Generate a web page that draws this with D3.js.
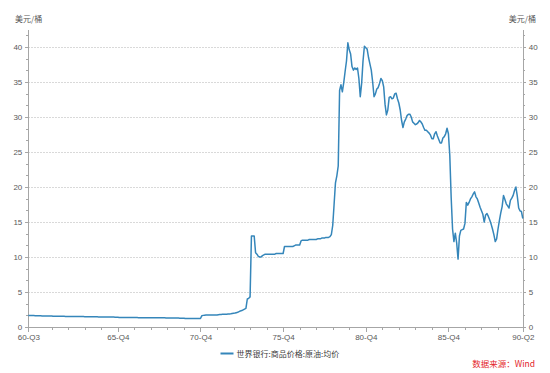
<!DOCTYPE html>
<html>
<head>
<meta charset="utf-8" />
<title>世界银行:商品价格:原油:均价</title>
<script src="https://cdnjs.cloudflare.com/ajax/libs/d3/7.8.5/d3.min.js"></script>
<style>
  body { margin: 0; padding: 0; background: #fff; }
  svg { display: block; font-family: "Microsoft YaHei", "Noto Sans CJK SC", sans-serif; }
  .axis path, .axis line { stroke: #a6a6a6; shape-rendering: crispEdges; }
  .axis text { fill: #595959; font-size: 8px; }
  .grid line { stroke: #d9d9d9; stroke-dasharray: 1.5,1.5; shape-rendering: crispEdges; }
</style>
</head>
<body>
<div id="chart"></div>
<script>
// monthly, first value = 1960-07
var startYear = 1960, startMonth = 7;
var prices = [
  1.63,1.63,1.63,1.63,1.63,1.62,                                  // 1960 Jul-Dec
  1.60,1.60,1.59,1.59,1.58,1.58,1.58,1.57,1.57,1.57,1.56,1.56,    // 1961
  1.53,1.53,1.52,1.52,1.52,1.52,1.52,1.52,1.52,1.51,1.51,1.51,    // 1962
  1.50,1.50,1.50,1.50,1.50,1.50,1.50,1.50,1.50,1.49,1.49,1.48,    // 1963
  1.46,1.46,1.45,1.45,1.45,1.45,1.45,1.45,1.45,1.44,1.44,1.44,    // 1964
  1.43,1.43,1.42,1.42,1.42,1.42,1.42,1.42,1.42,1.41,1.41,1.40,    // 1965
  1.36,1.36,1.36,1.36,1.36,1.36,1.36,1.36,1.35,1.35,1.35,1.35,    // 1966
  1.34,1.34,1.33,1.33,1.33,1.33,1.33,1.33,1.33,1.33,1.32,1.32,    // 1967
  1.32,1.32,1.32,1.32,1.32,1.32,1.32,1.31,1.31,1.31,1.30,1.30,    // 1968
  1.28,1.28,1.27,1.27,1.27,1.27,1.27,1.27,1.26,1.26,1.26,1.25,    // 1969
  1.21,1.21,1.21,1.21,1.21,1.21,1.21,1.21,1.21,1.21,1.21,1.22,    // 1970
  1.62,1.66,1.69,1.70,1.70,1.70,1.70,1.70,1.70,1.71,1.72,1.72,    // 1971
  1.75,1.78,1.80,1.82,1.82,1.82,1.83,1.84,1.85,1.88,1.92,1.96,    // 1972
  2.00,2.05,2.10,2.20,2.30,2.35,2.45,2.55,2.65,4.00,4.10,4.30,    // 1973
  13.0,13.0,13.0,10.6,10.4,10.1,10.0,10.0,10.2,10.3,10.4,10.4,    // 1974
  10.4,10.4,10.4,10.4,10.4,10.4,10.5,10.5,10.5,10.5,10.5,10.5,    // 1975
  11.5,11.5,11.5,11.5,11.5,11.5,11.5,11.6,11.7,11.7,11.7,11.7,    // 1976
  12.3,12.4,12.4,12.4,12.4,12.4,12.5,12.5,12.5,12.5,12.5,12.5,    // 1977
  12.6,12.6,12.6,12.7,12.7,12.7,12.8,12.8,12.8,12.9,13.2,14.5,    // 1978
  17.5,20.6,21.6,23.0,33.8,34.6,33.6,34.9,36.5,38.0,40.6,39.6,    // 1979
  39.0,37.2,36.7,37.0,36.8,37.0,35.5,32.9,34.8,38.0,40.1,39.9,    // 1980
  39.7,38.5,37.6,36.7,35.0,32.9,33.3,34.0,34.2,34.8,35.5,35.2,    // 1981
  34.3,31.8,30.3,31.0,32.8,32.9,32.6,32.7,33.3,33.4,32.6,32.0,    // 1982
  31.0,29.5,28.5,29.3,29.7,30.2,30.4,30.4,30.0,29.3,29.1,28.9,    // 1983
  29.0,29.2,29.5,29.3,29.0,28.5,28.1,28.1,27.9,27.7,27.4,26.9,    // 1984
  26.9,27.6,27.9,27.3,26.8,26.3,26.3,27.0,27.2,27.6,28.4,27.6,    // 1985
  24.5,18.5,14.0,12.2,13.4,12.0,9.7,13.0,13.8,13.9,14.0,14.8,     // 1986
  17.8,17.4,17.8,18.3,18.6,19.0,19.3,18.6,18.3,17.7,17.1,16.6,    // 1987
  16.1,15.0,16.0,16.2,15.8,15.3,14.7,14.0,13.2,12.2,12.6,14.0,    // 1988
  15.2,16.3,17.2,18.8,18.2,17.6,17.3,17.0,18.1,18.4,18.8,19.5,    // 1989
  20.0,18.7,17.0,16.6,16.5,15.5                                   // 1990 Jan-Jun
];

var xTickMonths = ["1960-07", "1965-12", "1970-12", "1975-12", "1980-12", "1985-12", "1990-06"];
var xTickLabels = ["60-Q3", "65-Q4", "70-Q4", "75-Q4", "80-Q4", "85-Q4", "90-Q2"];
var yTicks = [0, 5, 10, 15, 20, 25, 30, 35, 40];
var unitLabel = "美元/桶";
var seriesName = "世界银行:商品价格:原油:均价";
var sourceText = "数据来源：Wind";

function monthIndex(s) {
  var p = s.split("-");
  return (+p[0] - startYear) * 12 + (+p[1] - startMonth);
}

var width = 550, height = 373;
var plotLeft = 28.3, plotRight = 522.8, plotTop = 29.5, plotBottom = 327;
var lineColor = "#3586ba";

var svg = d3.select("#chart").append("svg")
  .attr("width", width).attr("height", height);

var x = d3.scaleLinear().domain([0, prices.length - 1]).range([plotLeft, plotRight]);
var y = d3.scaleLinear().domain([0, 42.5]).range([plotBottom, plotTop]);

// grid
svg.append("g").attr("class", "grid")
  .selectAll("line").data(yTicks.filter(function(d) { return d > 0; }))
  .enter().append("line")
  .attr("x1", plotLeft).attr("x2", plotRight)
  .attr("y1", function(d) { return Math.round(y(d)) + 0.5; })
  .attr("y2", function(d) { return Math.round(y(d)) + 0.5; });

// minor y ticks every 5/3
var yMinor = d3.range(0, 42, 5 / 3).filter(function(d) { return Math.abs(d / 5 - Math.round(d / 5)) > 0.01; });

function yAxes(axisFn, xpos) {
  svg.append("g").attr("class", "axis")
    .attr("transform", "translate(" + xpos + ",0)")
    .call(axisFn(y).tickValues(yMinor).tickSize(2).tickFormat(""))
    .call(function(g) { g.select(".domain").remove(); });
  svg.append("g").attr("class", "axis")
    .attr("transform", "translate(" + xpos + ",0)")
    .call(axisFn(y).tickValues(yTicks).tickSize(3).tickSizeOuter(0).tickPadding(3).tickFormat(d3.format("d")));
}
yAxes(d3.axisLeft, plotLeft);
yAxes(d3.axisRight, plotRight);

// x axis
var majorIdx = xTickMonths.map(monthIndex);
var minorIdx = d3.range(1961, 1989).map(function(yr) { return monthIndex(yr + "-12"); })
  .filter(function(i) { return majorIdx.indexOf(i) < 0; });

svg.append("g").attr("class", "axis")
  .attr("transform", "translate(0," + plotBottom + ")")
  .call(d3.axisBottom(x).tickValues(minorIdx).tickSize(3).tickFormat(""))
  .call(function(g) { g.select(".domain").remove(); });
svg.append("g").attr("class", "axis")
  .attr("transform", "translate(0," + plotBottom + ")")
  .call(d3.axisBottom(x).tickValues(majorIdx).tickSize(5).tickSizeOuter(0).tickPadding(2)
    .tickFormat(function(d, i) { return xTickLabels[i]; }));

// unit labels
svg.append("text").attr("x", 15).attr("y", 22)
  .attr("font-size", 8).attr("fill", "#595959").text(unitLabel);
svg.append("text").attr("x", 536).attr("y", 22).attr("text-anchor", "end")
  .attr("font-size", 8).attr("fill", "#595959").text(unitLabel);

// series
var line = d3.line()
  .x(function(d, i) { return x(i); })
  .y(function(d) { return y(d); });

svg.append("path").datum(prices)
  .attr("fill", "none")
  .attr("stroke", lineColor)
  .attr("stroke-width", 1.5)
  .attr("stroke-linejoin", "round")
  .attr("d", line);

// legend
svg.append("line").attr("x1", 220.5).attr("x2", 233.5).attr("y1", 353.5).attr("y2", 353.5)
  .attr("stroke", lineColor).attr("stroke-width", 2);
svg.append("text").attr("x", 236.5).attr("y", 356.5)
  .attr("font-size", 8).attr("fill", "#404040").text(seriesName);

// source
svg.append("text").attr("x", 535).attr("y", 367).attr("text-anchor", "end")
  .attr("font-size", 8.5).attr("fill", "#e3262a").text(sourceText);
</script>
</body>
</html>
